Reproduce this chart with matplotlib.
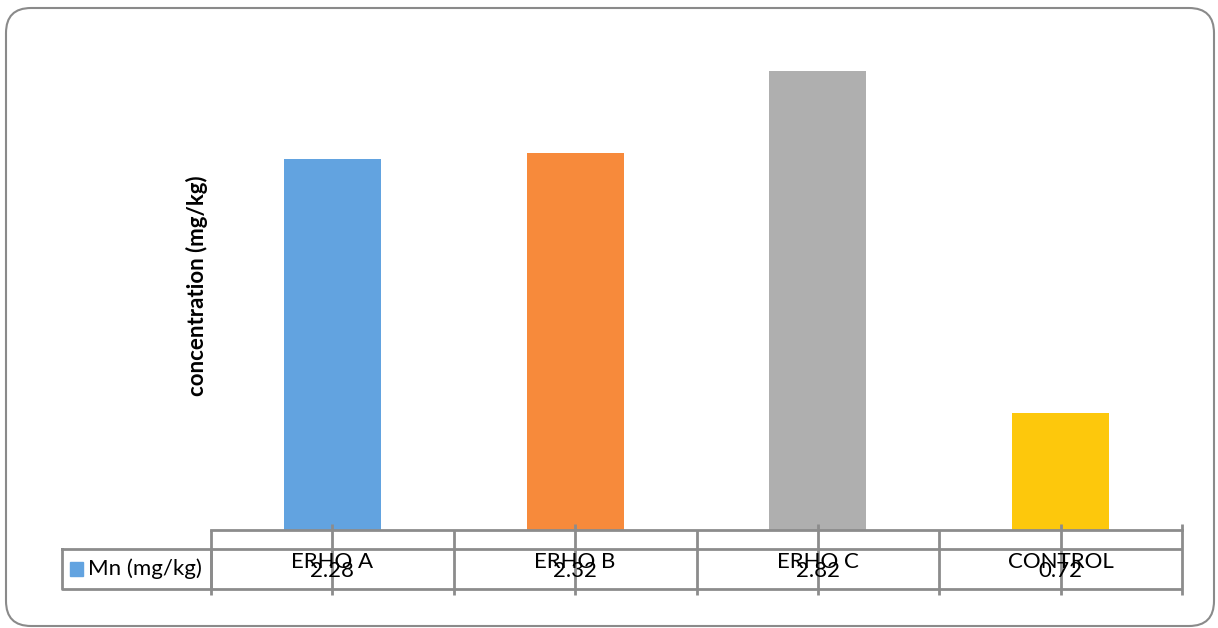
import matplotlib.pyplot as plt
from matplotlib.patches import FancyBboxPatch, Rectangle
from matplotlib.transforms import blended_transform_factory
import numpy as np

plt.rcParams['font.family'] = ['Lato', 'DejaVu Sans']

# Data
categories = ["ERHO A", "ERHO B", "ERHO C", "CONTROL"]
values = [2.28, 2.32, 2.82, 0.72]
series_name = "Mn (mg/kg)"
colors = ["#62a3e0", "#f78a3b", "#afafaf", "#fdc80c"]
grid_col = "#8c8c8c"

W, H = 1218, 628
fig = plt.figure(figsize=(W / 100, H / 100), dpi=100)

def fy(py):
    return 1 - py / H

# outer rounded frame (inches)
frame = FancyBboxPatch((0.06, 0.02), 12.08, 6.18,
                       boxstyle="round,pad=0,rounding_size=0.25",
                       transform=fig.dpi_scale_trans, facecolor="none",
                       edgecolor="#8a8a8a", linewidth=1.5, zorder=-1)
fig.patches.append(frame)

ax = fig.add_axes([211 / W, fy(530), 971 / W, 488 / H])
ax.patch.set_alpha(0)
x = np.arange(len(categories))
ax.bar(x, values, width=0.4, color=colors, zorder=2)
ax.set_xlim(-0.5, len(categories) - 0.5)
ax.set_ylim(0, 3)
for s in ["top", "right", "left"]:
    ax.spines[s].set_visible(False)
ax.spines["bottom"].set_color(grid_col)
ax.spines["bottom"].set_linewidth(2)
ax.set_yticks([])
ax.set_xticks([])

fig.text(197 / W, fy(286), "concentration (mg/kg)", rotation=90,
         ha="center", va="center", fontsize=16, fontweight="bold")

# data table below the axis
tr = blended_transform_factory(ax.transData, fig.transFigure)
lw = 2
edges = np.arange(len(categories) + 1) - 0.5
for e in edges:
    top = 524 if e == edges[-1] else 530
    ax.plot([e, e], [fy(top), fy(595)], transform=tr, color=grid_col,
            lw=lw, clip_on=False, solid_capstyle="butt")
for xi in x:
    ax.plot([xi, xi], [fy(524), fy(595)], transform=tr, color=grid_col,
            lw=lw, clip_on=False, solid_capstyle="butt", zorder=3)
for py in (549, 589):
    ax.plot([edges[0], edges[-1]], [fy(py), fy(py)], transform=tr,
            color=grid_col, lw=lw, clip_on=False, solid_capstyle="butt")

# legend cell
fig.lines.append(plt.Line2D([62 / W, 211 / W, 211 / W, 62 / W, 62 / W],
                            [fy(549), fy(549), fy(589), fy(589), fy(549)],
                            transform=fig.transFigure, color=grid_col, lw=lw))
fig.patches.append(Rectangle((70 / W, fy(576)), 13 / W, 14 / H,
                             transform=fig.transFigure, color=colors[0]))
fig.text(88 / W, fy(569), series_name, ha="left", va="center", fontsize=16)

for xi, cat, v in zip(x, categories, values):
    ax.text(xi, fy(562), cat, transform=tr, ha="center", va="center",
            fontsize=16)
    ax.text(xi, fy(571), f"{v:.2f}", transform=tr, ha="center", va="center",
            fontsize=16)

plt.savefig("out.png", dpi=100)
